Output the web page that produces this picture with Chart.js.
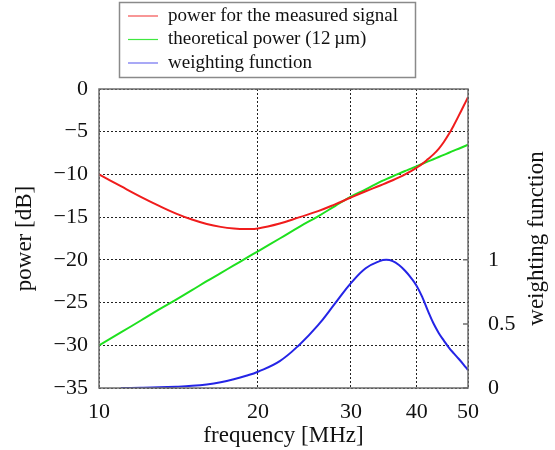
<!DOCTYPE html>
<html>
<head>
<meta charset="utf-8">
<script src="https://cdn.jsdelivr.net/npm/chart.js@4/dist/chart.umd.min.js"></script>
<style>
  body { margin: 0; background: #fff; }
  canvas { display: block; }
</style>
</head>
<body>
<canvas id="powerChart" width="555" height="450"></canvas>
<script>
// frequency grid [MHz]
const freqMHz = [10, 11, 12, 13, 14, 15, 16, 17, 18, 19, 20, 22, 24, 26, 28, 30, 32, 34, 35,
  36, 37, 38, 39, 40, 41, 42, 43, 44, 45, 46, 47, 48, 49, 50];

// power for the measured signal [dB]
const measuredPower = [-10.0, -11.38, -12.62, -13.68, -14.58, -15.28, -15.8, -16.14, -16.33, -16.39, -16.33,
  -15.75, -15.0, -14.3, -13.5, -12.7, -11.97, -11.32, -11.0,
  -10.68, -10.35, -10.0, -9.62, -9.2, -8.74, -8.2, -7.65, -7.0, -6.2, -5.28, -4.25, -3.15, -2.05, -0.97];

// theoretical power (12 um) [dB]
const theoreticalPower = [-30.0, -28.5, -27.1, -25.8, -24.65, -23.55, -22.5, -21.55, -20.65, -19.8, -19.0,
  -17.5, -16.1, -14.9, -13.7, -12.6, -11.75, -10.9, -10.55,
  -10.22, -9.9, -9.6, -9.32, -9.03, -8.75, -8.48, -8.22, -7.96, -7.71, -7.46, -7.22, -6.99, -6.76, -6.53];

// weighting function (right axis)
const weighting = [null, 0.0, 0.002, 0.005, 0.01, 0.017, 0.028, 0.045, 0.068, 0.095, 0.127,
  0.21, 0.34, 0.49, 0.66, 0.818, 0.935, 0.99, 1.0,
  0.99, 0.96, 0.915, 0.86, 0.795, 0.705, 0.6, 0.505, 0.43, 0.37, 0.315, 0.27, 0.228, 0.185, 0.14];

const freqTicks = [10, 20, 30, 40, 50];
const powerTicks = [0, -5, -10, -15, -20, -25, -30, -35];
const weightTicks = [0, 0.5, 1];

const serif = "'Liberation Serif', 'Times New Roman', serif";

function points(values) {
  return freqMHz.map((f, i) => ({ x: f, y: values[i] }));
}

// boxed legend, plot frame, inner ticks and right-hand title
const framePlugin = {
  id: "frame",
  afterDatasetsDraw(chart) {
    const ctx = chart.ctx;
    const a = chart.chartArea;
    ctx.save();
    ctx.strokeStyle = "#6e6e6e";
    ctx.lineWidth = 1.5;
    ctx.strokeRect(a.left, a.top, a.right - a.left, a.bottom - a.top);

    // small inward ticks on the weighting axis
    const w = chart.scales.yWeight;
    ctx.beginPath();
    weightTicks.forEach((v) => {
      const y = w.getPixelForValue(v);
      ctx.moveTo(a.right, y);
      ctx.lineTo(a.right - 5, y);
    });
    ctx.stroke();
    ctx.restore();
  },
  afterDraw(chart) {
    const ctx = chart.ctx;
    const a = chart.chartArea;
    ctx.save();

    // right axis title, reading upwards
    ctx.font = "23px " + serif;
    ctx.fillStyle = "#111";
    ctx.textAlign = "center";
    ctx.textBaseline = "middle";
    ctx.translate(537, (a.top + a.bottom) / 2);
    ctx.rotate(-Math.PI / 2);
    ctx.fillText("weighting function", 0, 0);
    ctx.restore();

    // legend box
    ctx.save();
    ctx.strokeStyle = "#8a8a8a";
    ctx.lineWidth = 1.5;
    ctx.strokeRect(119.5, 2.5, 296, 75);
    ctx.font = "19px " + serif;
    ctx.textAlign = "left";
    ctx.textBaseline = "middle";
    chart.data.datasets.forEach((ds, i) => {
      const y = 16 + i * 23.5;
      ctx.strokeStyle = ds.legendColor;
      ctx.lineWidth = 1.2;
      ctx.beginPath();
      ctx.moveTo(128, y);
      ctx.lineTo(158, y);
      ctx.stroke();
      ctx.fillStyle = "#111";
      ctx.fillText(ds.label, 168, y);
    });
    ctx.restore();
  },
};

const gridStyle = {
  color: "#222",
  lineWidth: 1,
  drawTicks: false,
};
// in v4 the grid line dash lives on the border options
const gridBorder = { display: false, dash: [2, 2] };

const ctx = document.getElementById("powerChart").getContext("2d");
const powerChart = new Chart(ctx, {
  type: "line",
  data: {
    datasets: [
      {
        label: "power for the measured signal",
        data: points(measuredPower),
        borderColor: "#f01c1c",
        legendColor: "#f45050",
        yAxisID: "yPower",
      },
      {
        label: "theoretical power (12\u2009\u00b5m)",
        data: points(theoreticalPower),
        borderColor: "#1ee01e",
        legendColor: "#40e840",
        yAxisID: "yPower",
      },
      {
        label: "weighting function",
        data: points(weighting),
        borderColor: "#2424e6",
        legendColor: "#7070f0",
        yAxisID: "yWeight",
      },
    ],
  },
  options: {
    responsive: false,
    animation: false,
    devicePixelRatio: 1,
    layout: { padding: { top: 89, left: 0, right: 0, bottom: 0 } },
    elements: {
      point: { radius: 0 },
      line: { borderWidth: 2, tension: 0.4 },
    },
    plugins: {
      legend: { display: false },
      tooltip: { enabled: false },
    },
    scales: {
      x: {
        type: "logarithmic",
        position: "bottom",
        min: 10,
        max: 50,
        afterBuildTicks: (scale) => {
          scale.ticks = freqTicks.map((v) => ({ value: v }));
        },
        afterFit: (scale) => {
          scale.height = 62;
        },
        grid: gridStyle,
        border: gridBorder,
        ticks: {
          color: "#111",
          font: { family: serif, size: 22 },
          padding: 11,
          maxRotation: 0,
          autoSkip: false,
          callback: (v) => String(v),
        },
        title: {
          display: true,
          text: "frequency [MHz]",
          color: "#111",
          font: { family: serif, size: 23 },
          padding: { top: 4, bottom: 0 },
        },
      },
      yPower: {
        position: "left",
        min: -35,
        max: 0,
        afterBuildTicks: (scale) => {
          scale.ticks = powerTicks.map((v) => ({ value: v }));
        },
        afterFit: (scale) => {
          scale.width = 99;
        },
        grid: gridStyle,
        border: gridBorder,
        ticks: {
          color: "#111",
          font: { family: serif, size: 22 },
          padding: 11,
          callback: (v) => String(v).replace("-", "\u2212"),
        },
        title: {
          display: true,
          text: "power [dB]",
          color: "#111",
          font: { family: serif, size: 23 },
          padding: { top: 11, bottom: 0 },
        },
      },
      yWeight: {
        position: "right",
        min: 0,
        max: 7 / 3,
        afterBuildTicks: (scale) => {
          scale.ticks = weightTicks.map((v) => ({ value: v }));
        },
        afterFit: (scale) => {
          scale.width = 87;
        },
        grid: { display: false },
        border: { display: false },
        ticks: {
          color: "#111",
          font: { family: serif, size: 22 },
          padding: 12,
          callback: (v) => String(v),
        },
      },
    },
  },
  plugins: [framePlugin],
});
</script>
</body>
</html>
